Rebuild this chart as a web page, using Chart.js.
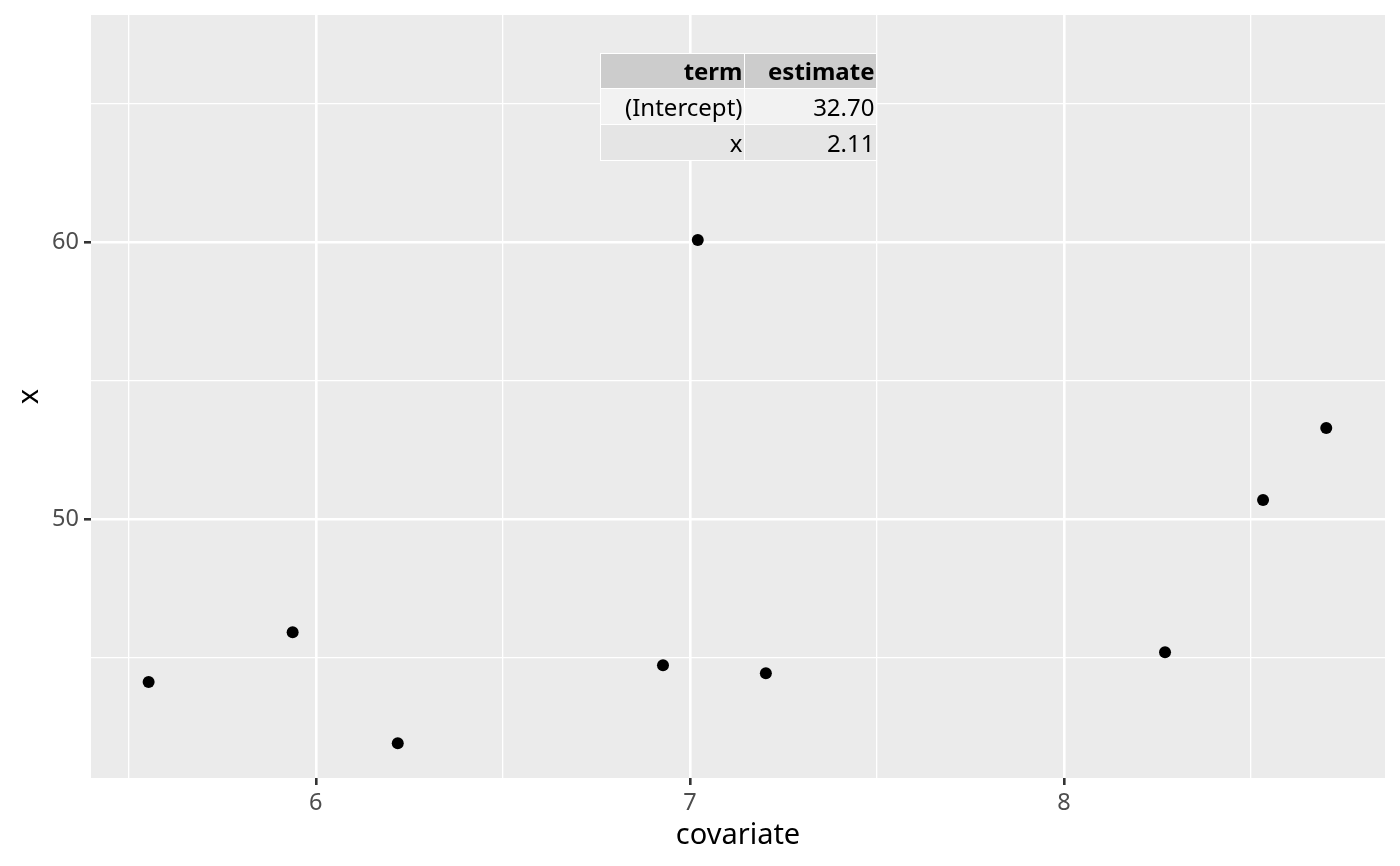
<!DOCTYPE html>
<html lang="en">

<head>
  <meta charset="UTF-8">
  <title>covariate vs x</title>
  <script src="https://cdn.jsdelivr.net/npm/chart.js"></script>
  <style>
    body {
      margin: 0;
      background: #ffffff;
    }

    #graphContainer {
      position: relative;
      width: 1400px;
      height: 866px;
    }

    #fitTable {
      position: absolute;
      border-collapse: collapse;
      font-family: "Noto Sans", sans-serif;
      font-size: 24px;
      color: #000000;
    }

    #fitTable td,
    #fitTable th {
      border: 1.5px solid #ffffff;
      text-align: right;
      padding: 0 1px 0 0;
      line-height: 1;
    }

    #fitTable th {
      background: #cccccc;
      font-weight: bold;
      height: 34px;
    }

    #fitTable tr.odd td {
      background: #f2f2f2;
      height: 35px;
    }

    #fitTable tr.even td {
      background: #e5e5e5;
      height: 35px;
    }
  </style>
</head>

<body>
  <div id="graphContainer">
    <canvas id="graphCanvas"></canvas>
    <table id="fitTable"></table>
  </div>

  <script>
    // Data
    const covariate = [5.553, 5.938, 6.219, 6.928, 7.021, 7.203, 8.270, 8.532, 8.701];
    const xValues = [44.12, 45.92, 41.91, 44.73, 60.07, 44.44, 45.20, 50.69, 53.29];

    // Axis breaks (major get labels, minor only grid lines)
    const xBreaks = [5.5, 6, 6.5, 7, 7.5, 8, 8.5];
    const xLabels = ['', '6', '', '7', '', '8', ''];
    const yBreaks = [45, 50, 55, 60, 65];
    const yLabels = ['', '50', '', '60', ''];

    // Table of fitted terms
    const tableHeader = ['term', 'estimate'];
    const tableTerms = ['(Intercept)', 'x'];
    const tableEstimates = ['32.70', '2.11'];

    // build the html table
    const table = document.getElementById('fitTable');
    let html = '<tr><th style="width:142px">' + tableHeader[0] + '</th><th style="width:130px">' + tableHeader[1] + '</th></tr>';
    tableTerms.forEach((t, i) => {
      html += '<tr class="' + (i % 2 === 0 ? 'odd' : 'even') + '"><td>' + t + '</td><td>' + tableEstimates[i] + '</td></tr>';
    });
    table.innerHTML = html;

    const points = covariate.map((c, i) => ({ x: c, y: xValues[i] }));

    const isMajor = (labels, breaks, value) => {
      const idx = breaks.indexOf(value);
      return idx >= 0 && labels[idx] !== '';
    };

    // grey panel behind the grid
    const panelBackground = {
      id: 'panelBackground',
      beforeDraw(chart) {
        const { ctx, chartArea } = chart;
        ctx.save();
        ctx.fillStyle = '#ebebeb';
        ctx.fillRect(chartArea.left, chartArea.top, chartArea.right - chartArea.left, chartArea.bottom - chartArea.top);
        ctx.restore();
      },
      afterDraw(chart) {
        // keep the table centred at the top of the panel
        const area = chart.chartArea;
        const w = table.offsetWidth;
        table.style.left = ((area.left + area.right) / 2 - w / 2) + 'px';
        table.style.top = (area.top + 38) + 'px';
      }
    };

    const ctx = document.getElementById('graphCanvas').getContext('2d');
    const chart = new Chart(ctx, {
      type: 'scatter',
      data: {
        datasets: [{
          label: 'x',
          data: points,
          pointBackgroundColor: '#000000',
          pointBorderWidth: 0,
          pointRadius: 6,
          pointHoverRadius: 6
        }]
      },
      options: {
        responsive: true,
        maintainAspectRatio: false,
        animation: false,
        devicePixelRatio: 1,
        layout: {
          padding: { top: 15, right: 15, left: 0, bottom: 0 }
        },
        scales: {
          x: {
            type: 'linear',
            position: 'bottom',
            min: 5.399,
            max: 8.858,
            afterBuildTicks: (scale) => {
              scale.ticks = xBreaks.map(v => ({ value: v }));
            },
            afterFit: (scale) => {
              scale.height = 88;
              scale.paddingLeft = 0;
              scale.paddingRight = 0;
            },
            border: { display: false },
            grid: {
              color: '#ffffff',
              lineWidth: (c) => isMajor(xLabels, xBreaks, c.tick.value) ? 2.6 : 1.3,
              tickColor: (c) => isMajor(xLabels, xBreaks, c.tick.value) ? '#333333' : 'rgba(0,0,0,0)',
              tickWidth: 2.6,
              tickLength: 7,
              drawTicks: true
            },
            ticks: {
              autoSkip: false,
              maxRotation: 0,
              padding: 4,
              color: '#4d4d4d',
              font: { family: 'Noto Sans', size: 23.5 },
              callback: (value) => {
                const idx = xBreaks.indexOf(value);
                return idx >= 0 ? xLabels[idx] : '';
              }
            },
            title: {
              display: true,
              text: 'covariate',
              color: '#000000',
              font: { family: 'Noto Sans', size: 29 },
              padding: { top: 0, bottom: 13 }
            }
          },
          y: {
            min: 40.66,
            max: 68.19,
            afterBuildTicks: (scale) => {
              scale.ticks = yBreaks.map(v => ({ value: v }));
            },
            afterFit: (scale) => {
              scale.width = 91;
              scale.paddingTop = 0;
              scale.paddingBottom = 0;
            },
            border: { display: false },
            grid: {
              color: '#ffffff',
              lineWidth: (c) => isMajor(yLabels, yBreaks, c.tick.value) ? 2.6 : 1.3,
              tickColor: (c) => isMajor(yLabels, yBreaks, c.tick.value) ? '#333333' : 'rgba(0,0,0,0)',
              tickWidth: 2.6,
              tickLength: 7,
              drawTicks: true
            },
            ticks: {
              autoSkip: false,
              padding: 5,
              color: '#4d4d4d',
              font: { family: 'Noto Sans', size: 23.5 },
              callback: (value) => {
                const idx = yBreaks.indexOf(value);
                return idx >= 0 ? yLabels[idx] : '';
              }
            },
            title: {
              display: true,
              text: 'x',
              color: '#000000',
              font: { family: 'Noto Sans', size: 29 },
              padding: { top: 12, bottom: 0 }
            }
          }
        },
        plugins: {
          legend: { display: false },
          tooltip: { enabled: false }
        }
      },
      plugins: [panelBackground]
    });
  </script>
</body>

</html>
